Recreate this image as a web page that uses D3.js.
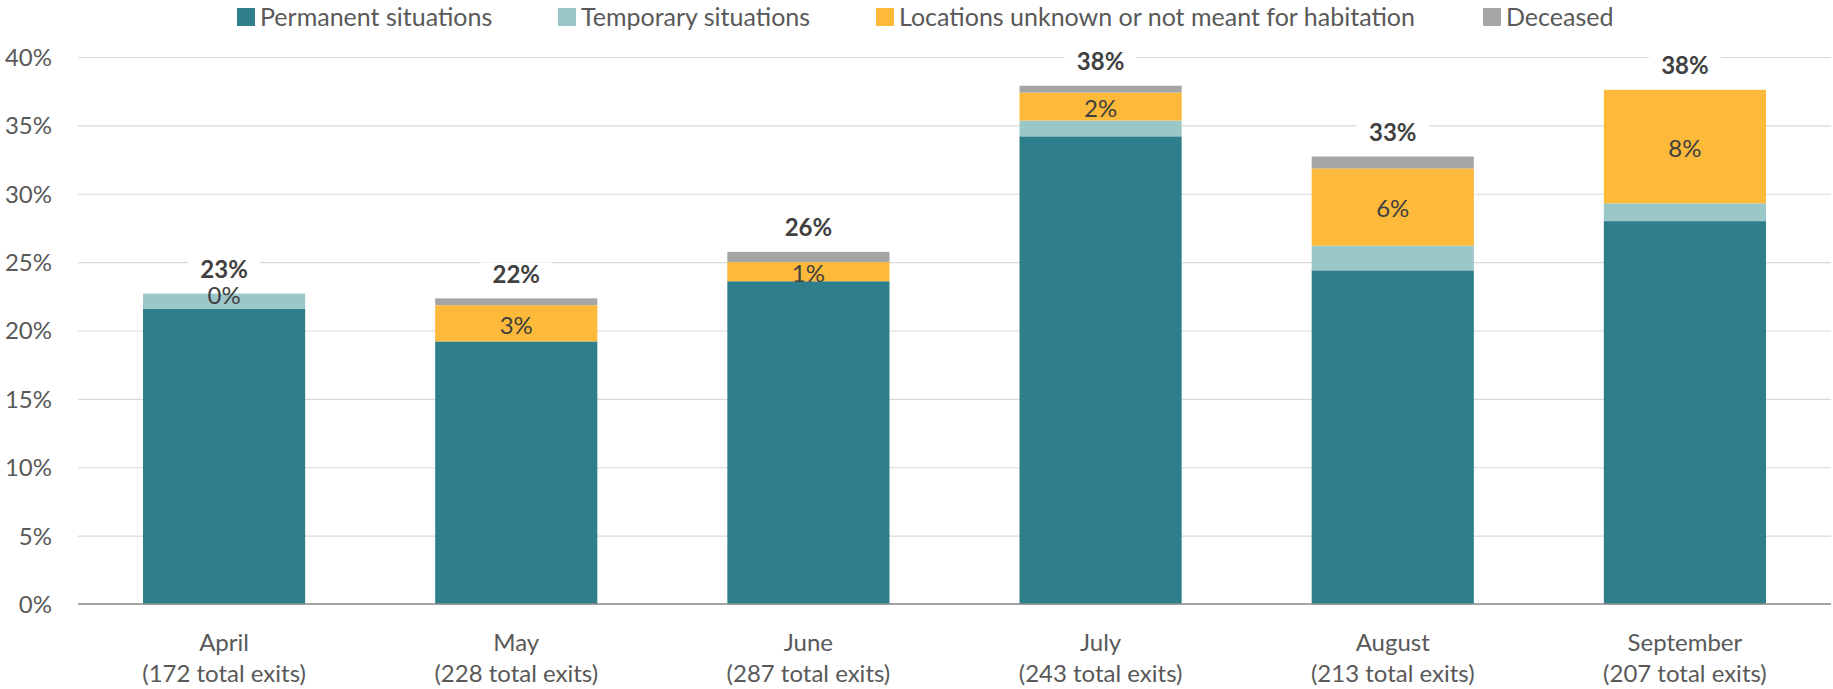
<!DOCTYPE html>
<html>
<head>
<meta charset="utf-8">
<script src="https://cdn.jsdelivr.net/npm/d3@7"></script>
<style>
  html, body { margin: 0; padding: 0; background: #fff; }
  svg { display: block; }
  text { font-family: "Lato", "Open Sans", sans-serif; }
</style>
</head>
<body>
<svg id="chart" width="1833" height="689"></svg>
<script>
// ---- data (percent of exits) ----
const months = ["April", "May", "June", "July", "August", "September"];
const totalExits = ["(172 total exits)", "(228 total exits)", "(287 total exits)", "(243 total exits)", "(213 total exits)", "(207 total exits)"];
const seriesNames = ["Permanent situations", "Temporary situations", "Locations unknown or not meant for habitation", "Deceased"];
const permanent = [21.6, 19.2, 23.6, 34.2, 24.4, 28.0];
const temporary = [1.1, 0, 0, 1.15, 1.8, 1.3];
const unknown   = [0, 2.65, 1.4, 2.05, 5.65, 8.3];
const deceased  = [0, 0.5, 0.75, 0.5, 0.87, 0];
const totalLabels = ["23%", "22%", "26%", "38%", "33%", "38%"];
const unknownLabels = ["0%", "3%", "1%", "2%", "6%", "8%"];
const yTicks = [0, 5, 10, 15, 20, 25, 30, 35, 40];
const colors = ["#2e7f8b", "#9cc7c9", "#fdb93a", "#a5a5a5"];

(function () {
const keys = ["permanent", "temporary", "unknown", "deceased"];
const rows = months.map((m, i) => ({
  month: m, permanent: permanent[i], temporary: temporary[i], unknown: unknown[i], deceased: deceased[i]
}));
const stack = d3.stack().keys(keys)(rows);

const svg = d3.select("#chart");
const x = d3.scaleBand().domain(months).range([78, 1831]).paddingInner(0.445).paddingOuter(0.2225);
const y = d3.scaleLinear().domain([0, 40]).range([604, 57]);

// gridlines + y labels
const yAxis = d3.axisLeft(y).tickValues(yTicks).tickFormat(d => d + "%").tickSize(-(1831 - 78));
const gy = svg.append("g").attr("transform", "translate(78,0)").call(yAxis);
gy.select(".domain").remove();
gy.selectAll(".tick line").attr("stroke", "#d9d9d9").attr("stroke-width", 1.2);
gy.selectAll(".tick text").attr("fill", "#595959").style("font-size", "24px").attr("x", -26).attr("dy", "0.35em");

// total label backgrounds (interrupt gridlines)
const topLayer = stack[3];
svg.append("g").selectAll("rect").data(topLayer).join("rect")
  .attr("x", d => x(d.data.month) + x.bandwidth() / 2 - 36)
  .attr("y", d => y(d[1]) - 23 - 13)
  .attr("width", 72).attr("height", 26).attr("fill", "#fff");

// bars
const colorOf = d3.scaleOrdinal().domain(keys).range(colors);
svg.append("g").selectAll("g").data(stack).join("g")
  .attr("fill", d => colorOf(d.key))
  .selectAll("rect").data(d => d).join("rect")
  .attr("x", d => x(d.data.month))
  .attr("width", x.bandwidth())
  .attr("y", d => y(d[1]))
  .attr("height", d => y(d[0]) - y(d[1]));

// baseline
svg.append("line").attr("x1", 78).attr("x2", 1831).attr("y1", y(0)).attr("y2", y(0))
  .attr("stroke", "#8c8c8c").attr("stroke-width", 1.5);

// x axis labels
const xl = svg.append("g");
months.forEach((m, i) => {
  const cx = x(m) + x.bandwidth() / 2;
  xl.append("text").attr("x", cx).attr("y", 643).attr("dy", "0.35em").attr("text-anchor", "middle")
    .attr("fill", "#595959").style("font-size", "24px").text(m);
  xl.append("text").attr("x", cx).attr("y", 674).attr("dy", "0.35em").attr("text-anchor", "middle")
    .attr("fill", "#595959").style("font-size", "24px").text(totalExits[i]);
});

// total labels
svg.append("g").selectAll("text").data(topLayer).join("text")
  .attr("x", d => x(d.data.month) + x.bandwidth() / 2)
  .attr("y", d => y(d[1]) - 24)
  .attr("dy", "0.35em").attr("text-anchor", "middle")
  .attr("fill", "#404040").style("font-size", "24px").style("font-weight", "bold")
  .text((d, i) => totalLabels[i]);

// unknown segment labels
const unkLayer = stack[2];
svg.append("g").selectAll("text").data(unkLayer).join("text")
  .attr("x", d => x(d.data.month) + x.bandwidth() / 2)
  .attr("y", d => (y(d[0]) + y(d[1])) / 2 + 2)
  .attr("dy", "0.35em").attr("text-anchor", "middle")
  .attr("fill", "#404040").style("font-size", "24px")
  .text((d, i) => unknownLabels[i]);

// legend
const legendX = [237, 558, 876, 1483];
const lg = svg.append("g");
seriesNames.forEach((n, i) => {
  lg.append("rect").attr("x", legendX[i]).attr("y", 8).attr("width", 18).attr("height", 18).attr("fill", colors[i]);
  lg.append("text").attr("x", legendX[i] + 23).attr("y", 17).attr("dy", "0.35em")
    .attr("fill", "#595959").style("font-size", "25px").text(n);
});
})();
</script>
</body>
</html>
